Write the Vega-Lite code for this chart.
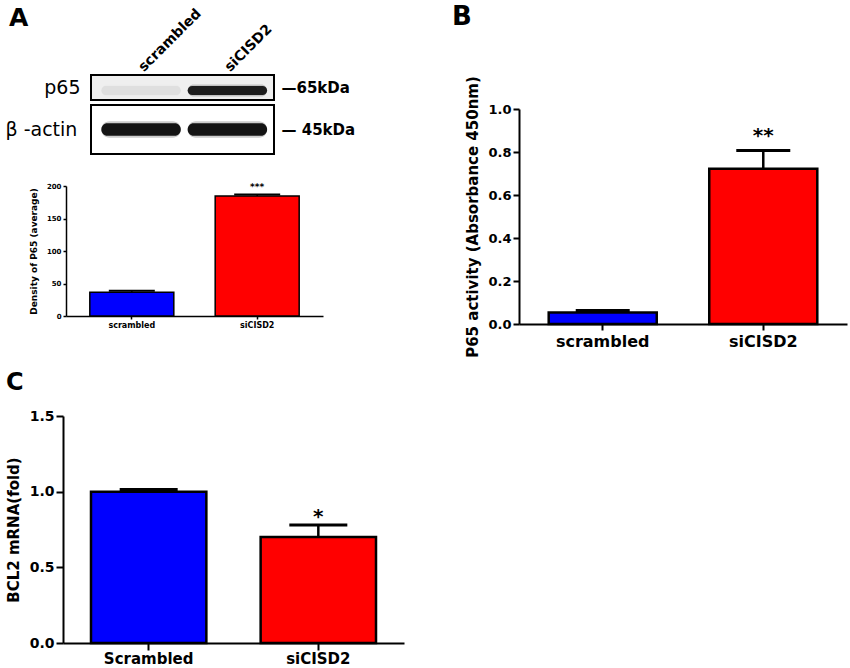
{
  "$schema": "https://vega.github.io/schema/vega-lite/v6.json",
  "background": "white",
  "padding": {"left": 4, "top": 4, "right": 2, "bottom": 1},
  "config": {
    "view": {"stroke": null},
    "axis": {
      "grid": false,
      "domainColor": "black",
      "domainWidth": 2,
      "tickColor": "black",
      "tickWidth": 2,
      "labelColor": "black",
      "titleColor": "black",
      "labelFont": "DejaVu Sans",
      "titleFont": "DejaVu Sans",
      "labelFontWeight": "bold",
      "titleFontWeight": "bold",
      "labelOverlap": false
    },
    "title": {"font": "DejaVu Sans", "fontWeight": "bold", "color": "black"},
    "text": {"font": "DejaVu Sans", "fontWeight": "bold", "color": "black"},
    "tick": {"opacity": 1}
  },
  "hconcat": [
    {
      "spacing": 42,
      "vconcat": [
        {
          "spacing": 27,
          "vconcat": [
            {
              "spacing": 3,
              "vconcat": [
                {
                  "width": 183,
                  "height": 25,
                  "view": {"stroke": "black", "strokeWidth": 2, "fill": "#efefef"},
                  "title": {"text": "A", "anchor": "start", "frame": "group", "dx": -82, "offset": -25, "fontSize": 25},
                  "data": {"values": [
                    {"lane": "scrambled", "level": 0.06},
                    {"lane": "siCISD2", "level": 0.95}
                  ]},
                  "encoding": {
                    "x": {"field": "lane", "type": "nominal", "sort": null,
                      "scale": {"paddingInner": 0.08, "paddingOuter": 0.1, "align": 0.6},
                      "axis": {"orient": "top", "title": null, "labelAngle": -45, "labelAlign": "left", "labelBaseline": "middle",
                        "labelFontSize": 14, "labelPadding": 6, "ticks": false, "domain": false}}
                  },
                  "layer": [
                    {
                      "layer": [
                        {
                          "mark": {"type": "bar", "color": "#555555", "cornerRadius": 7},
                          "encoding": {
                            "y": {"datum": 0.14, "type": "quantitative", "scale": {"domain": [0, 1]},
                              "axis": {"title": "p65", "titleAngle": 0, "titleAlign": "right", "titleBaseline": "middle",
                                "titleX": -11, "titleY": 12.5, "titleFontSize": 19, "titleFontWeight": "normal",
                                "labels": false, "ticks": false, "domain": false}},
                            "y2": {"datum": 0.62},
                            "fillOpacity": {"field": "level", "type": "quantitative", "scale": {"domain": [0, 1], "range": [0, 0.3]}, "legend": null}
                          }
                        },
                        {
                          "mark": {"type": "bar", "color": "#141414", "cornerRadius": 5},
                          "encoding": {
                            "y": {"datum": 0.2, "type": "quantitative"},
                            "y2": {"datum": 0.56},
                            "opacity": {"field": "level", "type": "quantitative", "scale": {"domain": [0, 1], "range": [0, 1]}, "legend": null}
                          }
                        }
                      ]
                    },
                    {
                      "mark": {"type": "bar", "opacity": 0},
                      "encoding": {
                        "y": {"datum": 0.2, "type": "quantitative", "scale": {"domain": [0, 1]},
                          "axis": {"orient": "right", "title": "—65kDa", "titleAngle": 0, "titleAlign": "left", "titleBaseline": "middle",
                            "titleX": 7, "titleY": 12.5, "titleFontSize": 15,
                            "labels": false, "ticks": false, "domain": false}},
                        "y2": {"datum": 0.56}
                      }
                    }
                  ],
                  "resolve": {"scale": {"y": "independent"}}
                },
                {
                  "width": 183,
                  "height": 49,
                  "view": {"stroke": "black", "strokeWidth": 2, "fill": "white"},
                  "data": {"values": [
                    {"lane": "scrambled", "level": 1},
                    {"lane": "siCISD2", "level": 1}
                  ]},
                  "encoding": {
                    "x": {"field": "lane", "type": "nominal", "sort": null,
                      "scale": {"paddingInner": 0.08, "paddingOuter": 0.1, "align": 0.6}, "axis": null}
                  },
                  "layer": [
                    {
                      "layer": [
                        {
                          "mark": {"type": "bar", "color": "#555555", "cornerRadius": 8},
                          "encoding": {
                            "y": {"datum": 0.33, "type": "quantitative", "scale": {"domain": [0, 1]},
                              "axis": {"title": "β -actin", "titleAngle": 0, "titleAlign": "left", "titleBaseline": "middle",
                                "titleX": -86, "titleY": 24.5, "titleFontSize": 19, "titleFontWeight": "normal",
                                "labels": false, "ticks": false, "domain": false}},
                            "y2": {"datum": 0.67},
                            "fillOpacity": {"field": "level", "type": "quantitative", "scale": {"domain": [0, 1], "range": [0, 0.3]}, "legend": null}
                          }
                        },
                        {
                          "mark": {"type": "bar", "color": "#141414", "cornerRadius": 6},
                          "encoding": {
                            "y": {"datum": 0.37, "type": "quantitative"},
                            "y2": {"datum": 0.63},
                            "opacity": {"field": "level", "type": "quantitative", "scale": {"domain": [0, 1], "range": [0, 1]}, "legend": null}
                          }
                        }
                      ]
                    },
                    {
                      "mark": {"type": "bar", "opacity": 0},
                      "encoding": {
                        "y": {"datum": 0.37, "type": "quantitative", "scale": {"domain": [0, 1]},
                          "axis": {"orient": "right", "title": "— 45kDa", "titleAngle": 0, "titleAlign": "left", "titleBaseline": "middle",
                            "titleX": 7, "titleY": 24.5, "titleFontSize": 15,
                            "labels": false, "ticks": false, "domain": false}},
                        "y2": {"datum": 0.63}
                      }
                    }
                  ],
                  "resolve": {"scale": {"y": "independent"}}
                }
              ]
            },
            {
              "width": 232,
              "height": 130,
              "data": {"values": [
                {"group": "scrambled", "mean": 36.5, "upper": 39, "sig": ""},
                {"group": "siCISD2", "mean": 184.6, "upper": 187, "sig": "***"}
              ]},
              "encoding": {
                "x": {"field": "group", "type": "nominal", "sort": null,
                  "scale": {"range": [-25, 232], "paddingInner": 0.33, "paddingOuter": 0.19},
                  "axis": {"title": null, "labelAngle": 0, "labelFontSize": 8, "tickSize": 3, "tickWidth": 1.5, "domainWidth": 1.5}}
              },
              "layer": [
                {
                  "mark": {"type": "bar", "stroke": "black", "strokeWidth": 1.5},
                  "encoding": {
                    "y": {"field": "mean", "type": "quantitative", "scale": {"domain": [0, 200], "nice": false},
                      "axis": {"title": "Density of P65 (average)", "values": [0, 50, 100, 150, 200], "tickCount": 5, "labelOverlap": false,
                        "labelFontSize": 7, "offset": 25, "titleFontSize": 9, "titlePadding": 8, "tickSize": 3, "tickWidth": 1.5, "domainWidth": 1.5}},
                    "color": {"condition": {"test": "datum.group === 'siCISD2'", "value": "#FF0000"}, "value": "#0000FF"}
                  }
                },
                {
                  "mark": {"type": "rule", "strokeWidth": 1.5, "color": "black"},
                  "encoding": {"y": {"field": "mean", "type": "quantitative"}, "y2": {"field": "upper"}}
                },
                {
                  "mark": {"type": "tick", "size": 46, "thickness": 2, "color": "black"},
                  "encoding": {"y": {"field": "upper", "type": "quantitative"}}
                },
                {
                  "mark": {"type": "text", "baseline": "alphabetic", "dy": -4, "fontSize": 9},
                  "encoding": {"y": {"field": "upper", "type": "quantitative"}, "text": {"field": "sig"}}
                }
              ]
            }
          ]
        },
        {
          "width": 313,
          "height": 227,
          "title": {"text": "C", "anchor": "start", "frame": "group", "dx": -85, "offset": 14, "fontSize": 24},
          "data": {"values": [
            {"group": "Scrambled", "mean": 1.0, "upper": 1.015, "sig": ""},
            {"group": "siCISD2", "mean": 0.7, "upper": 0.78, "sig": "*"}
          ]},
          "encoding": {
            "x": {"field": "group", "type": "nominal", "sort": null,
              "scale": {"range": [-28, 313], "paddingInner": 0.32, "paddingOuter": 0.165},
              "axis": {"title": null, "labelAngle": 0, "labelFontSize": 15, "tickSize": 7, "labelPadding": 1}}
          },
          "layer": [
            {
              "mark": {"type": "bar", "stroke": "black", "strokeWidth": 2.5},
              "encoding": {
                "y": {"field": "mean", "type": "quantitative", "scale": {"domain": [0, 1.5], "nice": false},
                  "axis": {"title": "BCL2 mRNA(fold)", "values": [0, 0.5, 1, 1.5], "format": ".1f", "labelFontSize": 14, "offset": 28,
                    "titleFontSize": 15, "titlePadding": 8, "tickSize": 7}},
                "color": {"condition": {"test": "datum.group === 'siCISD2'", "value": "#FF0000"}, "value": "#0000FF"}
              }
            },
            {
              "mark": {"type": "rule", "strokeWidth": 2.5, "color": "black"},
              "encoding": {"y": {"field": "mean", "type": "quantitative"}, "y2": {"field": "upper"}}
            },
            {
              "mark": {"type": "tick", "size": 58, "thickness": 3, "color": "black"},
              "encoding": {"y": {"field": "upper", "type": "quantitative"}}
            },
            {
              "mark": {"type": "text", "baseline": "alphabetic", "dy": -2, "fontSize": 20},
              "encoding": {"y": {"field": "upper", "type": "quantitative"}, "text": {"field": "sig"}}
            }
          ]
        }
      ]
    },
    {
      "width": 328,
      "height": 249,
      "title": {"text": "B", "anchor": "start", "frame": "group", "dx": -67, "offset": 45, "fontSize": 26},
      "data": {"values": [
        {"group": "scrambled", "mean": 0.053, "upper": 0.063, "sig": ""},
        {"group": "siCISD2", "mean": 0.722, "upper": 0.807, "sig": "**"}
      ]},
      "encoding": {
        "x": {"field": "group", "type": "nominal", "sort": null,
          "scale": {"paddingInner": 0.327, "paddingOuter": 0.185},
          "axis": {"title": null, "labelAngle": 0, "labelFontSize": 16, "tickSize": 6, "labelPadding": 3}}
      },
      "layer": [
        {
          "mark": {"type": "bar", "stroke": "black", "strokeWidth": 2.5},
          "encoding": {
            "y": {"field": "mean", "type": "quantitative", "scale": {"domain": [0, 1], "nice": false, "range": [249, 34]},
              "axis": {"title": "P65 activity (Absorbance 450nm)", "values": [0, 0.2, 0.4, 0.6, 0.8, 1], "format": ".1f",
                "labelFontSize": 13, "titleFontSize": 15, "titlePadding": 7, "tickSize": 6}},
            "color": {"condition": {"test": "datum.group === 'siCISD2'", "value": "#FF0000"}, "value": "#0000FF"}
          }
        },
        {
          "mark": {"type": "rule", "strokeWidth": 2.5, "color": "black"},
          "encoding": {"y": {"field": "mean", "type": "quantitative"}, "y2": {"field": "upper"}}
        },
        {
          "mark": {"type": "tick", "size": 54, "thickness": 3, "color": "black"},
          "encoding": {"y": {"field": "upper", "type": "quantitative"}}
        },
        {
          "mark": {"type": "text", "baseline": "alphabetic", "dy": -8, "fontSize": 20},
          "encoding": {"y": {"field": "upper", "type": "quantitative"}, "text": {"field": "sig"}}
        }
      ]
    }
  ],
  "spacing": 20
}
